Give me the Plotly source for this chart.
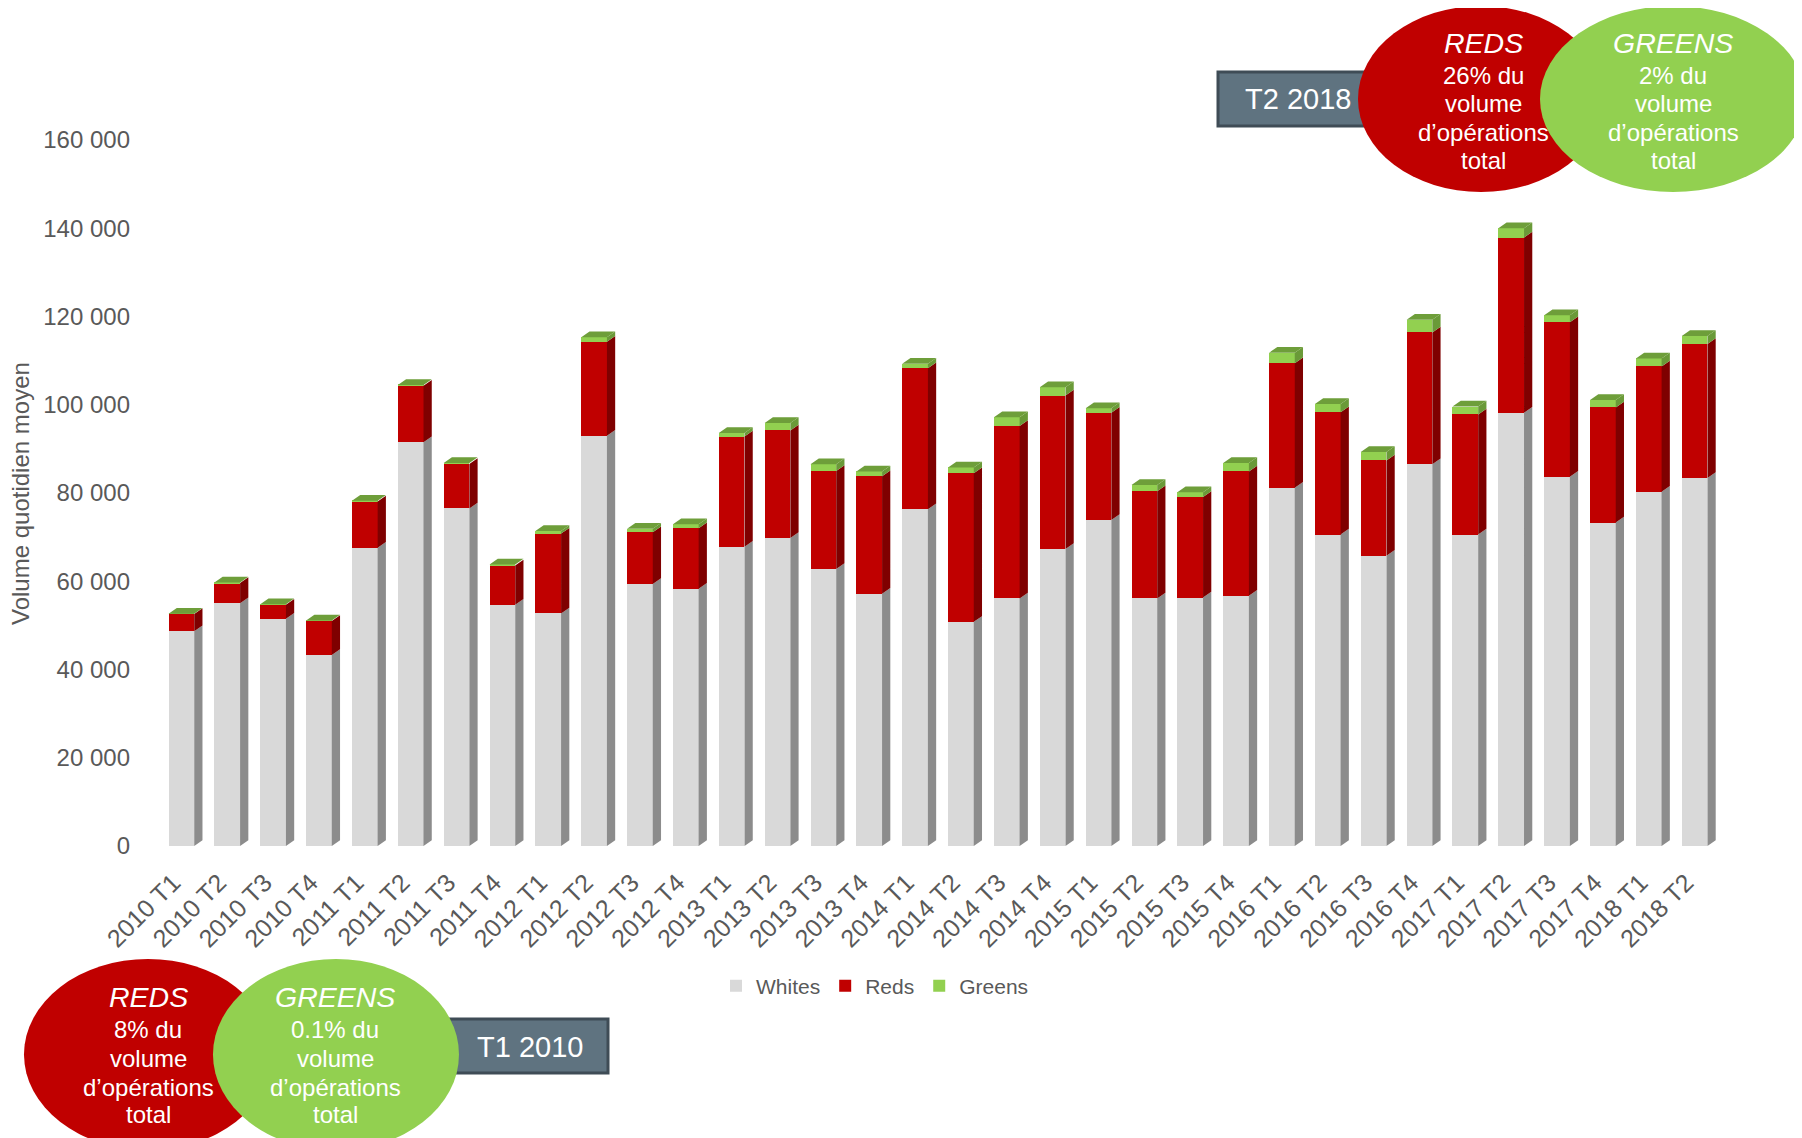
import plotly.graph_objects as go

categories = ["2010 T1", "2010 T2", "2010 T3", "2010 T4", "2011 T1", "2011 T2", "2011 T3", "2011 T4",
              "2012 T1", "2012 T2", "2012 T3", "2012 T4", "2013 T1", "2013 T2", "2013 T3", "2013 T4",
              "2014 T1", "2014 T2", "2014 T3", "2014 T4", "2015 T1", "2015 T2", "2015 T3", "2015 T4",
              "2016 T1", "2016 T2", "2016 T3", "2016 T4", "2017 T1", "2017 T2", "2017 T3", "2017 T4",
              "2018 T1", "2018 T2"]
whites = [48700, 55000, 51500, 43300, 67600, 91500, 76500, 54700, 52700, 93000, 59400, 58300,
          67800, 69800, 62800, 57200, 76300, 50800, 56100, 67300, 73900, 56100, 56300, 56700,
          81200, 70600, 65800, 86500, 70600, 98200, 83700, 73300, 80300, 83400]
reds = [3900, 4600, 3200, 7700, 10500, 12800, 10100, 8900, 18100, 21300, 11700, 13700,
        25000, 24400, 22200, 26600, 32000, 33700, 39100, 34800, 24300, 24300, 22800, 28200,
        28200, 27700, 21600, 29900, 27200, 39700, 35000, 26100, 28400, 30400]
greens = [60, 100, 100, 100, 150, 200, 200, 200, 600, 1000, 800, 900,
          800, 1700, 1500, 1100, 1000, 1300, 2000, 1900, 1000, 1400, 1100, 1900,
          2400, 1900, 1900, 2900, 1800, 2100, 1600, 1700, 1800, 1800]
y_ticks = [0, 20000, 40000, 60000, 80000, 100000, 120000, 140000, 160000]
y_tick_labels = ["0", "20 000", "40 000", "60 000", "80 000", "100 000", "120 000", "140 000", "160 000"]

FONT = "Liberation Sans, Arial, sans-serif"
GREY = "#595959"
PAGE_W, PAGE_H = 1802, 1138
OFF = 8                      # default page body margin
WIDTH, HEIGHT = PAGE_W - OFF, PAGE_H - OFF
# plot area in page pixel coordinates
L, R, T, B = 147, 1729, 118, 846
PW, PH = R - L, B - T
YMAX = 165000

def X(px):
    return (px - L) / PW

def Y(py):
    return (B - py) / PH

bw = 0.56      # front face width (category units)
dx = 0.18      # depth offset x
dy = 1300      # depth offset y (value units)
label_shift = 0.18   # rotated labels end slightly left of the bar centre

xs = list(range(len(categories)))
series = [("Whites", whites, "#d9d9d9", "#8c8c8c"),
          ("Reds", reds, "#c00000", "#7f0000"),
          ("Greens", greens, "#92d050", "#6a9a38")]

fig = go.Figure()
for name, vals, front, side in series:
    fig.add_trace(go.Bar(x=xs, y=vals, name=name, width=bw,
                         marker=dict(color=front, line=dict(width=0)),
                         hoverinfo="skip"))

# side faces
bases = [0] * len(xs)
for name, vals, front, side in series:
    px_, py_ = [], []
    for i, v in enumerate(vals):
        y0, y1 = bases[i], bases[i] + v
        xr = i + bw / 2
        px_ += [xr, xr + dx, xr + dx, xr, xr, None]
        py_ += [y0, y0 + dy, y1 + dy, y1, y0, None]
        bases[i] = y1
    fig.add_trace(go.Scatter(x=px_, y=py_, mode="lines", fill="toself", fillcolor=side,
                             line=dict(width=0, color=side), showlegend=False, hoverinfo="skip"))

# top faces
tx, ty = [], []
for i, tot in enumerate(bases):
    xl, xr = i - bw / 2, i + bw / 2
    tx += [xl, xl + dx, xr + dx, xr, xl, None]
    ty += [tot, tot + dy, tot + dy, tot, tot, None]
fig.add_trace(go.Scatter(x=tx, y=ty, mode="lines", fill="toself", fillcolor="#6e9e3a",
                         line=dict(width=0, color="#6e9e3a"), showlegend=False, hoverinfo="skip"))

shapes = []
def rect(x0, y0, x1, y1):
    shapes.append(dict(type="rect", xref="paper", yref="paper", x0=X(x0), x1=X(x1), y0=Y(y1), y1=Y(y0),
                       fillcolor="#5f7380", line=dict(color="#3f4c56", width=3), layer="above"))

def ell(x0, y0, x1, y1, color):
    shapes.append(dict(type="circle", xref="paper", yref="paper", x0=X(x0), x1=X(x1), y0=Y(y1), y1=Y(y0),
                       fillcolor=color, line=dict(width=0), layer="above"))

# top callout
rect(1218, 72, 1400, 126)
ell(1358, 6, 1604, 192, "#c00000")
ell(1540, 6, 1806, 192, "#92d050")
# bottom callout
ell(24, 959, 272, 1150, "#c00000")
rect(440, 1019, 608, 1073)
ell(213, 959, 459, 1150, "#92d050")

annotations = []
def txt(px, py, text, size, color="white"):
    annotations.append(dict(xref="paper", yref="paper", x=X(px), y=Y(py), text=text, showarrow=False,
                            xanchor="center", yanchor="middle",
                            font=dict(family=FONT, size=size, color=color)))

top_lines_y = [43, 75, 103, 132, 160]
bot_lines_y = [997, 1029, 1058, 1087, 1114]
for cx, head, pct, ys in [(1483, "REDS", "26% du", top_lines_y), (1673, "GREENS", "2% du", top_lines_y),
                          (148, "REDS", "8% du", bot_lines_y), (335, "GREENS", "0.1% du", bot_lines_y)]:
    txt(cx, ys[0], "<i>" + head + "</i>", 28.5)
    txt(cx, ys[1], pct, 24)
    txt(cx, ys[2], "volume", 24)
    txt(cx, ys[3], "d’opérations", 24)
    txt(cx, ys[4], "total", 24)
txt(1298, 99, "T2 2018", 29)
txt(530, 1047, "T1 2010", 29)

annotations.append(dict(xref="paper", yref="paper", x=X(21), y=Y(494), text="Volume quotidien moyen",
                        textangle=-90, showarrow=False, xanchor="center", yanchor="middle",
                        font=dict(family=FONT, size=24, color=GREY)))

fig.update_layout(
    width=WIDTH, height=HEIGHT,
    margin=dict(l=L - OFF, r=WIDTH - (R - OFF), t=T - OFF, b=HEIGHT - (B - OFF), autoexpand=False),
    paper_bgcolor="white", plot_bgcolor="white",
    barmode="stack", bargap=0,
    font=dict(family=FONT, color=GREY),
    xaxis=dict(range=[-0.75, len(xs) - 0.25], tickmode="array",
               tickvals=[i - label_shift for i in xs], ticktext=categories,
               tickangle=-45, tickfont=dict(size=25, color=GREY), showgrid=False, zeroline=False,
               showline=False, ticks="", ticklabelstandoff=16),
    yaxis=dict(range=[0, YMAX], tickmode="array", tickvals=y_ticks, ticktext=y_tick_labels,
               tickfont=dict(size=24, color=GREY), showgrid=False, zeroline=False, showline=False,
               ticks="", ticklabelstandoff=16),
    legend=dict(orientation="h", x=X(875), y=Y(986), xanchor="center", yanchor="middle",
                font=dict(size=21, color=GREY), itemwidth=30, traceorder="normal"),
    shapes=shapes, annotations=annotations, showlegend=True,
)

fig.write_html("out.html")
